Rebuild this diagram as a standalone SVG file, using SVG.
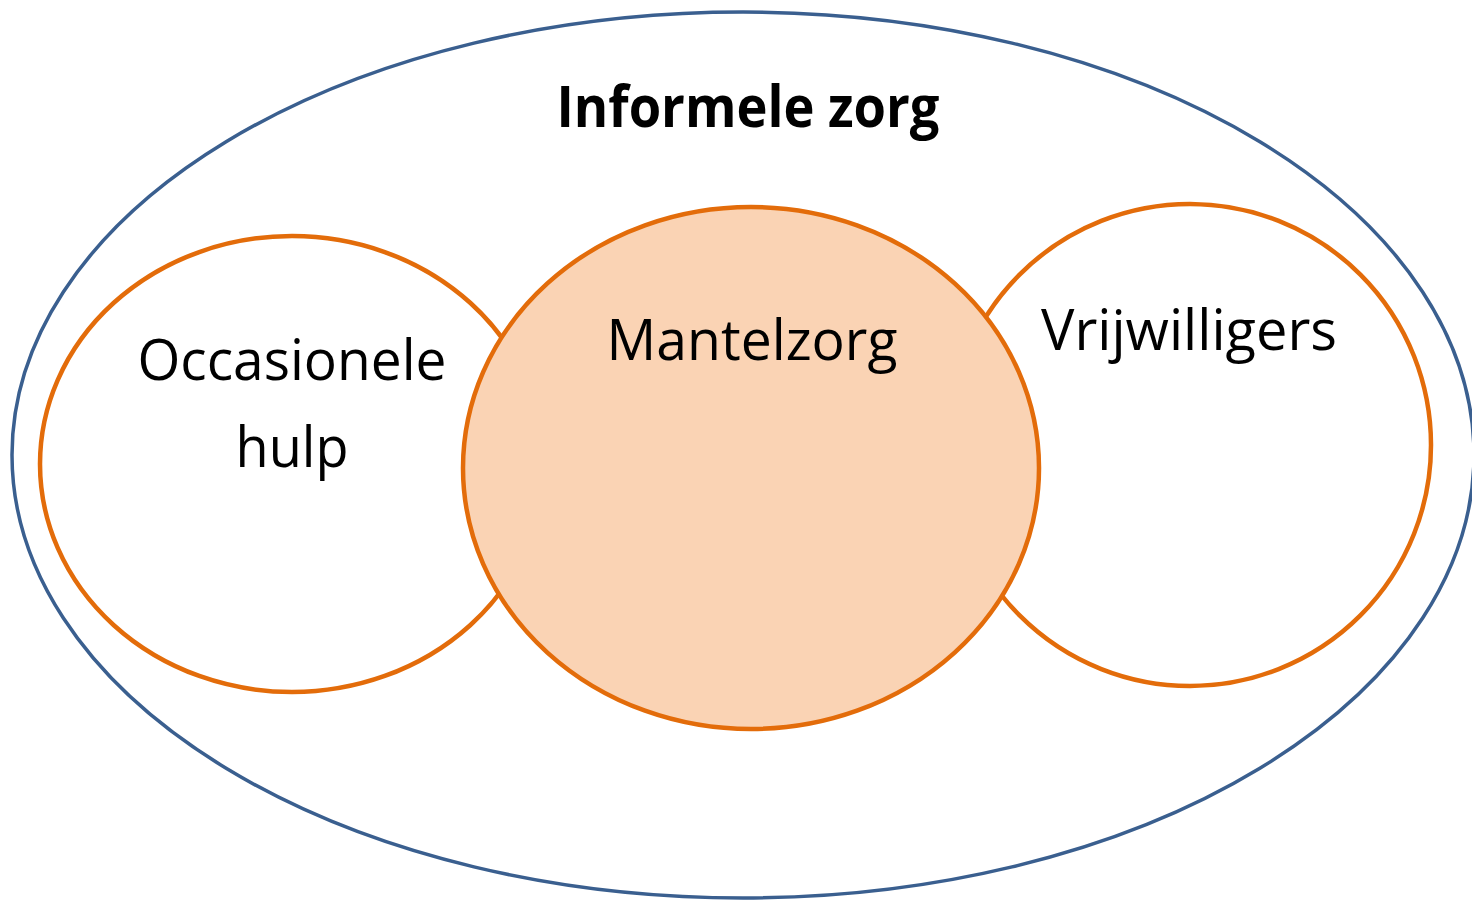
<svg xmlns="http://www.w3.org/2000/svg" width="1472" height="904" viewBox="0 0 1472 904">
<style>
.orange{fill:#ffffff;stroke:#E36C0A;stroke-width:4.5}
.t{font-family:"Open Sans","Liberation Sans",sans-serif;fill:#000;text-anchor:middle}
</style>
<rect width="1472" height="904" fill="#ffffff"/>
<g id="informele-zorg">
<ellipse cx="743" cy="455" rx="731" ry="443" fill="#ffffff" stroke="#3A5F8F" stroke-width="3.5"/>
<text class="t" x="748" y="127" font-size="58" font-weight="bold" textLength="383" lengthAdjust="spacingAndGlyphs">Informele zorg</text>
</g>
<g id="occasionele-hulp">
<ellipse class="orange" cx="292" cy="464" rx="252" ry="228"/>
<text class="t" x="292" y="380" font-size="56" textLength="309" lengthAdjust="spacingAndGlyphs">Occasionele</text>
<text class="t" x="292" y="467" font-size="56" textLength="113" lengthAdjust="spacingAndGlyphs">hulp</text>
</g>
<g id="vrijwilligers">
<ellipse class="orange" cx="1190" cy="445" rx="241" ry="241"/>
<text class="t" x="1189" y="350" font-size="56" textLength="296" lengthAdjust="spacingAndGlyphs">Vrijwilligers</text>
</g>
<g id="mantelzorg">
<ellipse cx="751" cy="468" rx="288" ry="261" fill="#FAD3B4" stroke="#E36C0A" stroke-width="4.5"/>
<text class="t" x="752" y="360" font-size="56" textLength="291" lengthAdjust="spacingAndGlyphs">Mantelzorg</text>
</g>
<g id="connectors"/>
</svg>
